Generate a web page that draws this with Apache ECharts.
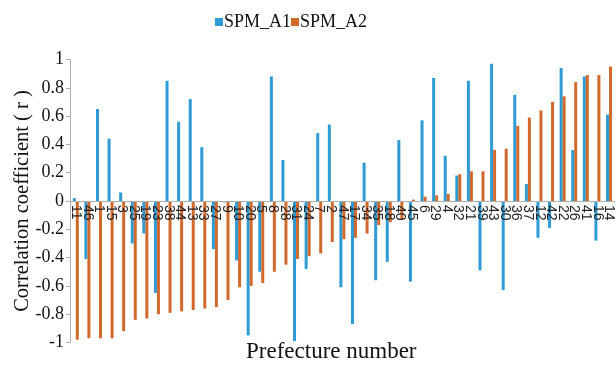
<!DOCTYPE html>
<html>
<head>
<meta charset="utf-8">
<script src="https://cdn.jsdelivr.net/npm/echarts@6/dist/echarts.min.js"></script>
<style>
  html, body { margin: 0; padding: 0; background: #fff; }
  #chart { width: 616px; height: 367px; }
</style>
</head>
<body>
<div id="chart"></div>
<script>
const prefectures = ['11', '46', '1', '15', '3', '25', '19', '23', '38', '44', '13', '33', '27', '9', '10',
  '20', '5', '8', '28', '31', '24', '7', '2', '47', '17', '34', '35', '18', '40', '45',
  '6', '29', '4', '32', '21', '39', '43', '30', '36', '37', '12', '42', '22', '26', '41', '16', '14'];

const spmA1 = [0.02, -0.41, 0.65, 0.44, 0.06, -0.30, -0.23, -0.65, 0.85, 0.56, 0.72, 0.38, -0.34, -0.01, -0.42,
  -0.95, -0.50, 0.88, 0.29, -0.99, -0.48, 0.48, 0.54, -0.61, -0.87, 0.27, -0.56, -0.43, 0.43, -0.57,
  0.57, 0.87, 0.32, 0.18, 0.85, -0.49, 0.97, -0.63, 0.75, 0.12, -0.26, -0.19, 0.94, 0.36, 0.88, -0.28, 0.61];

const spmA2 = [-0.98, -0.97, -0.97, -0.97, -0.92, -0.84, -0.83, -0.80, -0.79, -0.78, -0.77, -0.76, -0.75, -0.70, -0.61,
  -0.60, -0.58, -0.50, -0.45, -0.41, -0.39, -0.37, -0.29, -0.27, -0.26, -0.23, -0.17, -0.15, -0.13, 0.01,
  0.03, 0.04, 0.05, 0.19, 0.21, 0.21, 0.36, 0.37, 0.53, 0.59, 0.64, 0.70, 0.74, 0.84, 0.89, 0.89, 0.95];

const serif = '"Liberation Serif", "Times New Roman", serif';

const chart = echarts.init(document.getElementById('chart'));

// plot area: y=1 at 59.5px, y=-1 at 342.5px, so zero line sits 141.5px above the grid bottom
const gridTop = 59.5;
const gridBottom = 24.5;
const zeroOffset = (367 - gridTop - gridBottom) / 2;

const option = {
  animation: false,
  backgroundColor: '#fff',
  title: {
    text: 'Prefecture number',
    left: 246,
    top: 340,
    padding: 0,
    textStyle: { fontFamily: serif, fontSize: 23, fontWeight: 'normal', color: '#111' }
  },
  legend: {
    left: 210,
    top: 8,
    itemWidth: 8,
    itemHeight: 8,
    itemGap: 0,
    icon: 'rect',
    textStyle: { fontFamily: serif, fontSize: 18, color: '#111', padding: [0, 0, 0, -4] },
    data: ['SPM_A1', 'SPM_A2']
  },
  grid: { left: 70, right: 1, top: gridTop, bottom: gridBottom, containLabel: false },
  xAxis: {
    type: 'category',
    data: prefectures,
    position: 'bottom',
    offset: -zeroOffset,
    z: 10,
    axisLine: { onZero: false, lineStyle: { color: '#b0b0b0' } },
    axisTick: { show: false },
    axisLabel: {
      rotate: -90,
      interval: 0,
      margin: 4,
      fontFamily: '"Liberation Sans", Arial, sans-serif',
      fontSize: 14,
      color: '#222'
    }
  },
  yAxis: {
    type: 'value',
    min: -1,
    max: 1,
    interval: 0.2,
    name: 'Correlation coefficient ( r )',
    nameLocation: 'middle',
    nameGap: 37,
    nameMoveOverlap: false,
    nameTextStyle: { fontFamily: serif, fontSize: 20.5, color: '#111' },
    splitLine: { show: false },
    axisLine: { show: true, lineStyle: { color: '#b0b0b0' } },
    axisTick: { show: true, length: 4, lineStyle: { color: '#b0b0b0' } },
    axisLabel: {
      margin: 6,
      fontFamily: serif,
      fontSize: 18,
      color: '#111',
      formatter: v => String(Math.round(v * 10) / 10)
    }
  },
  series: [
    {
      name: 'SPM_A1',
      type: 'bar',
      data: spmA1,
      barWidth: 3,
      barGap: '0%',
      itemStyle: { color: '#2e9bd4' }
    },
    {
      name: 'SPM_A2',
      type: 'bar',
      data: spmA2,
      barWidth: 3,
      itemStyle: { color: '#d2692c' }
    }
  ]
};

chart.setOption(option);
</script>
</body>
</html>
